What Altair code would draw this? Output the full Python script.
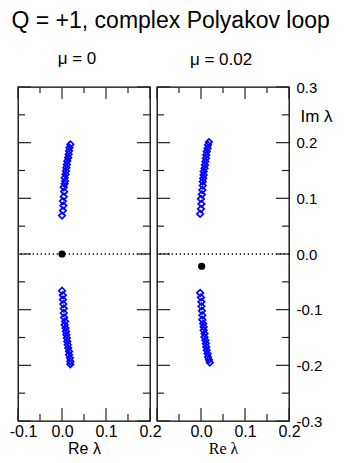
import altair as alt
import pandas as pd

# ---- data ----
panel_titles = ["μ = 0", "μ = 0.02"]

# mu = 0 : upper and lower eigenvalue branches
re_up_0 = [0.000, 0.002, 0.003, 0.002, 0.004, 0.005, 0.004, 0.006, 0.007, 0.006,
           0.008, 0.009, 0.010, 0.011, 0.012, 0.014, 0.015, 0.016, 0.017, 0.019]
im_up_0 = [0.069, 0.078, 0.087, 0.095, 0.103, 0.112, 0.120, 0.126, 0.131, 0.137,
           0.143, 0.149, 0.155, 0.161, 0.167, 0.173, 0.179, 0.185, 0.191, 0.197]
re_lo_0 = [0.000, 0.002, 0.002, 0.003, 0.004, 0.004, 0.005, 0.007, 0.006, 0.008,
           0.009, 0.010, 0.011, 0.012, 0.013, 0.014, 0.016, 0.016, 0.018, 0.019, 0.019]
im_lo_0 = [-0.066, -0.074, -0.082, -0.090, -0.098, -0.106, -0.114, -0.121, -0.127, -0.133,
           -0.139, -0.145, -0.151, -0.157, -0.163, -0.169, -0.175, -0.181, -0.187, -0.193, -0.198]

# mu = 0.02
re_up_1 = [-0.002, 0.000, 0.001, 0.000, 0.002, 0.003, 0.004, 0.004, 0.005, 0.006,
           0.006, 0.008, 0.009, 0.010, 0.011, 0.012, 0.013, 0.015, 0.016, 0.018]
im_up_1 = [0.072, 0.081, 0.090, 0.099, 0.107, 0.115, 0.123, 0.130, 0.136, 0.142,
           0.148, 0.154, 0.160, 0.166, 0.172, 0.178, 0.184, 0.190, 0.196, 0.201]
re_lo_1 = [-0.002, 0.000, 0.001, 0.001, 0.002, 0.003, 0.003, 0.005, 0.006, 0.006,
           0.008, 0.008, 0.010, 0.011, 0.012, 0.013, 0.015, 0.016, 0.018, 0.020]
im_lo_1 = [-0.070, -0.078, -0.086, -0.094, -0.102, -0.110, -0.118, -0.125, -0.131, -0.137,
           -0.143, -0.149, -0.155, -0.161, -0.167, -0.173, -0.179, -0.185, -0.190, -0.195]

# black reference points (Polyakov loop)
re_pt = [0.0, 0.0015]
im_pt = [0.0, -0.022]

x_domain = [-0.1, 0.2]
y_domain = [-0.3, 0.3]
x_major = [-0.1, 0.0, 0.1, 0.2]
x_minor = [-0.05, 0.05, 0.15]
y_major = [-0.3, -0.2, -0.1, 0.0, 0.1, 0.2, 0.3]
y_minor = [-0.25, -0.15, -0.05, 0.05, 0.15, 0.25]
zero_level = 0.0

# ---- layout / style ----
W, H = 132, 334
MAJ, MIN = 13, 7
FONT = "Liberation Sans"
LABEL_EXPR = "datum.value < 0 ? '-' + format(-datum.value, '.1f') : format(datum.value, '.1f')"

re_up = [re_up_0, re_up_1]
im_up = [im_up_0, im_up_1]
re_lo = [re_lo_0, re_lo_1]
im_lo = [im_lo_0, im_lo_1]


def panel(i):
    first = i == 0
    xs = alt.Scale(domain=x_domain, nice=False, zero=False)
    ys = alt.Scale(domain=y_domain, nice=False, zero=False)

    pts = pd.DataFrame({"re": re_up[i] + re_lo[i], "im": im_up[i] + im_lo[i]})
    dot = pd.DataFrame({"re": [re_pt[i]], "im": [im_pt[i]]})

    xaxis = alt.Axis(
        values=x_major if first else x_major[1:],
        labelExpr=LABEL_EXPR, ticks=False, domain=False, grid=False,
        labelFontSize=16, labelFont=FONT, labelColor="black",
        labelFlush=False, labelOverlap=False, labelPadding=2,
        labelOffset={"condition": {"test": "datum.value < -0.05", "value": 5}, "value": 0},
        title="Re λ", titleFontSize=16, titleFontWeight="normal",
        titleFont=FONT if first else "Liberation Serif", titleColor="black",
        titlePadding=1,
    )
    if first:
        yaxis = None
    else:
        yaxis = alt.Axis(
            orient="right", values=y_major, labelExpr=LABEL_EXPR,
            ticks=False, domain=False, grid=False,
            labelFontSize=15, labelFont=FONT, labelColor="black",
            labelFlush=False, labelOverlap=False, labelPadding=7,
            title="Im λ", titleAngle=0, titleAlign="left", titleBaseline="middle",
            titleX=11, titleY=29, titleFontSize=17, titleFontWeight="normal",
            titleFont=FONT, titleColor="black",
        )

    def X(field):
        return alt.X(field, scale=xs, axis=xaxis)

    def Y(field):
        return alt.Y(field, scale=ys, axis=yaxis)

    zero = alt.Chart(pd.DataFrame({"v": [zero_level]})).mark_rule(
        color="black", strokeWidth=1.3, strokeDash=[1.3, 2.7]
    ).encode(y=Y("v:Q"))

    diamonds = alt.Chart(pts).mark_point(
        shape="diamond", filled=False, color="#0000ff", size=42, strokeWidth=1.7, opacity=1
    ).encode(x=X("re:Q"), y=Y("im:Q"))

    black = alt.Chart(dot).mark_point(
        shape="circle", filled=True, color="black", size=52, opacity=1
    ).encode(x=X("re:Q"), y=Y("im:Q"))

    ticks = []
    for vals, ln in [(y_major, MAJ), (y_minor, MIN)]:
        d = pd.DataFrame({"v": vals})
        ticks.append(alt.Chart(d).mark_rule(color="#222", strokeWidth=1.2).encode(
            y=Y("v:Q"), x=alt.value(0), x2=alt.value(ln)))
        ticks.append(alt.Chart(d).mark_rule(color="#222", strokeWidth=1.2).encode(
            y=Y("v:Q"), x=alt.value(W), x2=alt.value(W - ln)))
    for vals, ln in [(x_major, MAJ), (x_minor, MIN)]:
        d = pd.DataFrame({"v": vals})
        ticks.append(alt.Chart(d).mark_rule(color="#222", strokeWidth=1.2).encode(
            x=X("v:Q"), y=alt.value(H), y2=alt.value(H - ln)))
        ticks.append(alt.Chart(d).mark_rule(color="#222", strokeWidth=1.2).encode(
            x=X("v:Q"), y=alt.value(0), y2=alt.value(ln - 1)))

    return alt.layer(diamonds, zero, black, *ticks).properties(
        width=W, height=H,
        title=alt.TitleParams(panel_titles[i], fontSize=17, font=FONT,
                              fontWeight="normal", color="black",
                              offset=18 if first else 11, frame="group",
                              anchor="middle", dx=-7 if first else -2),
    )


chart = alt.hconcat(panel(0), panel(1), spacing=7, bounds="flush").properties(
    title=alt.TitleParams("Q = +1, complex Polyakov loop", fontSize=23, font=FONT,
                          fontWeight="normal", color="black", offset=17, anchor="middle"),
    padding={"left": 0, "top": 1, "right": 0, "bottom": 0},
).configure(background="white").configure_view(stroke="black", strokeWidth=1.3)

chart.save("out.html", embed_options={"renderer": "svg", "actions": False})
